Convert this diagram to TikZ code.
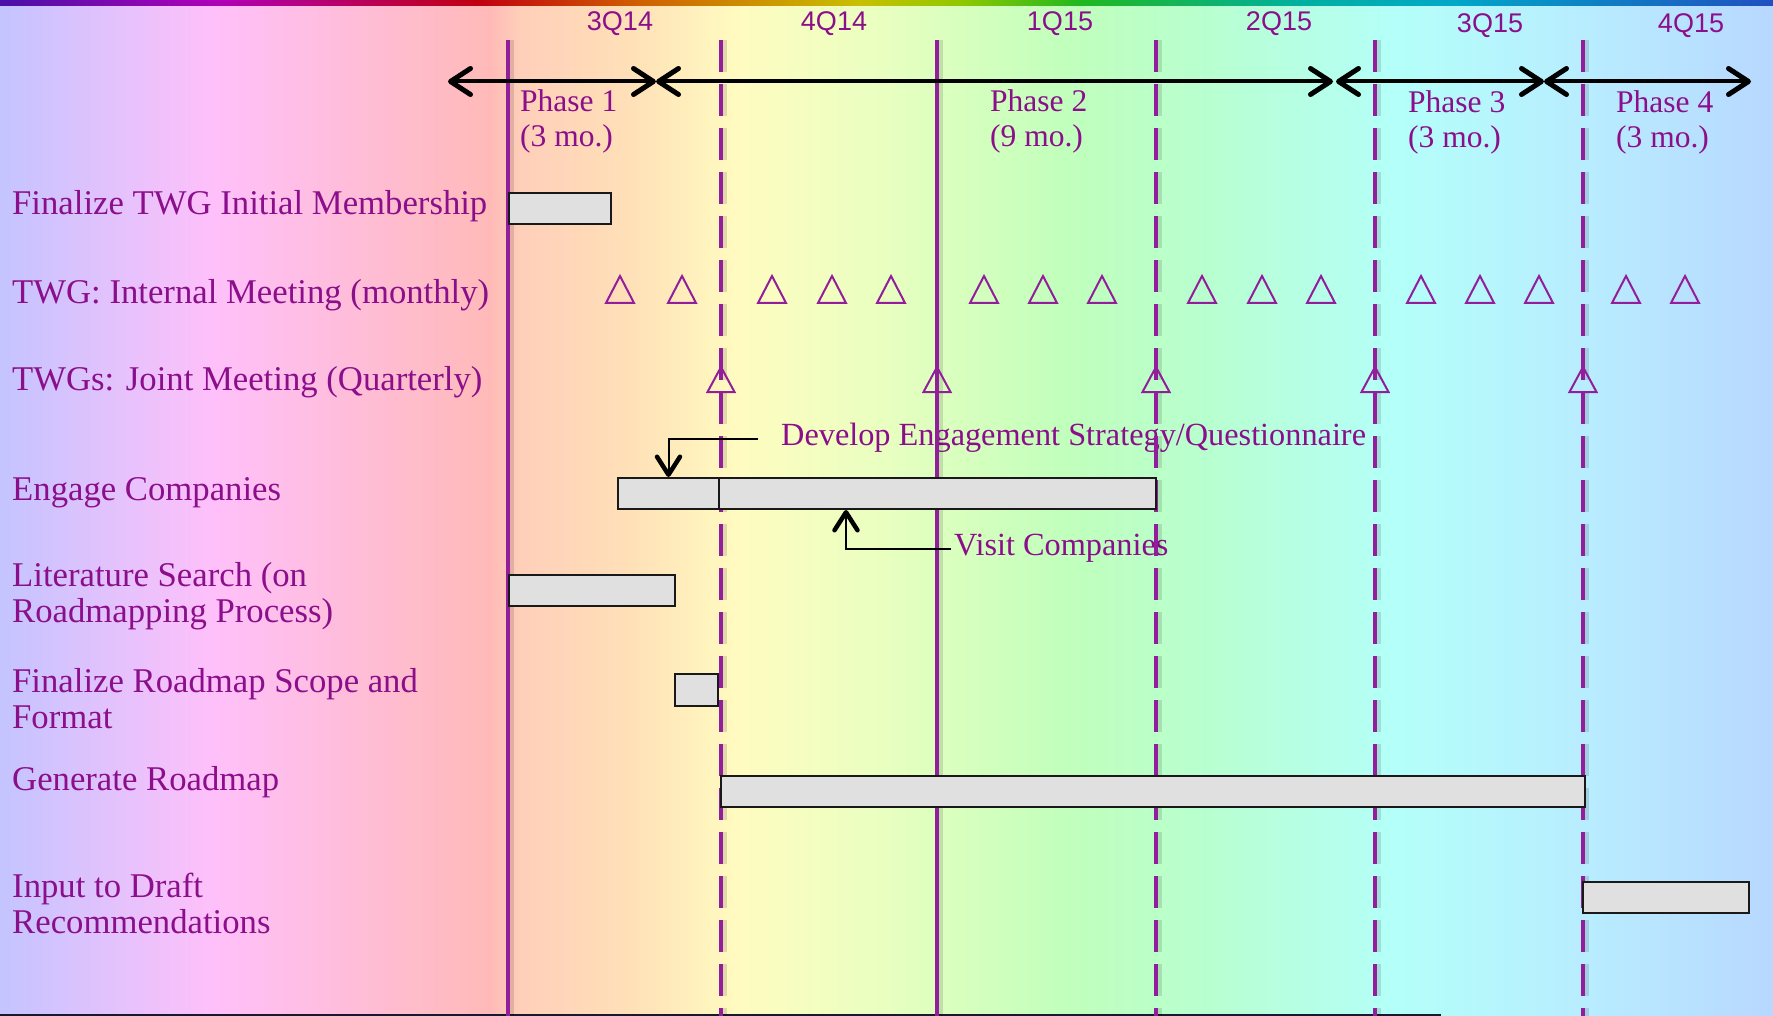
\documentclass[tikz,border=0pt]{standalone}
\usepackage{fontspec}
\setmainfont{Liberation Serif}
\newfontfamily\qfont{Liberation Sans}
\usetikzlibrary{arrows.meta}
\definecolor{txt}{RGB}{139,14,139}
\definecolor{ln}{RGB}{146,30,156}
\definecolor{barfill}{RGB}{224,224,224}
\definecolor{bottomdark}{RGB}{24,24,48}
\definecolor{bg0}{HTML}{C4C4FF}
\definecolor{bg1}{HTML}{FFC0FA}
\definecolor{bg2}{HTML}{FFBAB8}
\definecolor{bg3}{HTML}{FFCFB9}
\definecolor{bg4}{HTML}{FFE0B8}
\definecolor{bg5}{HTML}{FFFCC0}
\definecolor{bg6}{HTML}{E8FFC0}
\definecolor{bg7}{HTML}{C0FFBC}
\definecolor{bg8}{HTML}{B8FFD0}
\definecolor{bg9}{HTML}{B4FFFA}
\definecolor{bg10}{HTML}{B8ECFF}
\definecolor{bg11}{HTML}{B8D8FF}
\definecolor{rb0}{HTML}{4A10A8}
\definecolor{rb1}{HTML}{B000B8}
\definecolor{rb2}{HTML}{C00010}
\definecolor{rb3}{HTML}{D06000}
\definecolor{rb4}{HTML}{C8C000}
\definecolor{rb5}{HTML}{90C800}
\definecolor{rb6}{HTML}{20B820}
\definecolor{rb7}{HTML}{00B0A0}
\definecolor{rb8}{HTML}{00A8C8}
\definecolor{rb9}{HTML}{2050C0}
\pgfdeclarehorizontalshading{bgshade}{1016pt}{color(0pt)=(bg0); color(215pt)=(bg1); color(490pt)=(bg2); color(520pt)=(bg3); color(630pt)=(bg4); color(740pt)=(bg5); color(885pt)=(bg6); color(1070pt)=(bg7); color(1210pt)=(bg8); color(1400pt)=(bg9); color(1590pt)=(bg10); color(1773pt)=(bg11)}
\pgfdeclarehorizontalshading{rainbow}{6pt}{color(0pt)=(rb0); color(218pt)=(rb1); color(476pt)=(rb2); color(640pt)=(rb3); color(860pt)=(rb4); color(960pt)=(rb5); color(1080pt)=(rb6); color(1300pt)=(rb7); color(1450pt)=(rb8); color(1773pt)=(rb9)}
\newcommand\twoline[2]{\begin{tabular}[t]{@{}l@{}}#1\\#2\end{tabular}}
\tikzset{
  lbl/.style={text=txt, font=\fontsize{34.7}{37}\selectfont, inner sep=0pt, anchor=base west},
  lbltwo/.style={lbl, font=\fontsize{34.7}{36.5}\selectfont},
  annlbl/.style={lbl, font=\fontsize{32.3}{34}\selectfont},
  phl/.style={text=txt, font=\fontsize{31.5}{35}\selectfont, inner sep=0pt, anchor=base west},
  qlbl/.style={text=txt, font=\qfont\fontsize{27}{30}\selectfont, inner sep=0pt, anchor=base},
  bar/.style={draw=black!90, line width=2pt, fill=barfill, inner sep=0pt, minimum height=31pt},
  vline/.style={draw=ln, line width=4pt},
  dline/.style={vline, dash pattern=on 32pt off 12pt},
  vshadow/.style={draw=black, opacity=0.12, line width=5pt},
  dshadow/.style={vshadow, dash pattern=on 32pt off 12pt},
  tri/.style={draw=ln, line width=2pt, line join=miter},
  phasearr/.style={draw=black, line width=4pt, {Straight Barb[length=20pt,width=26pt,line width=5pt,round]}-{Straight Barb[length=20pt,width=26pt,line width=5pt,round]}},
  annot/.style={draw=black, line width=2pt, -{Straight Barb[length=18pt,width=23pt,line width=4.5pt,round]}}
}
\begin{document}
\begin{tikzpicture}[x=1pt,y=-1pt]
\useasboundingbox (0,0) rectangle (1773,1016);
% background
\node[inner sep=0pt, outer sep=0pt, anchor=north west] (bg) at (0,0) {\pgfuseshading{bgshade}};
\node[inner sep=0pt, outer sep=0pt, anchor=north west] (rb) at (0,0) {\pgfuseshading{rainbow}};
\fill[bottomdark] (0,1014) rectangle (1441,1016);

% quarter labels
\node[qlbl] (q1) at (620,31) {3Q14};
\node[qlbl] (q2) at (834,31) {4Q14};
\node[qlbl] (q3) at (1060,31) {1Q15};
\node[qlbl] (q4) at (1279,31) {2Q15};
\node[qlbl] (q5) at (1490,33) {3Q15};
\node[qlbl] (q6) at (1691,33) {4Q15};

% phase labels
\node[phl] (ph1) at (520,112) {\twoline{Phase 1}{(3 mo.)}};
\node[phl] (ph2) at (990,112) {\twoline{Phase 2}{(9 mo.)}};
\node[phl] (ph3) at (1408,113) {\twoline{Phase 3}{(3 mo.)}};
\node[phl] (ph4) at (1616,113) {\twoline{Phase 4}{(3 mo.)}};

% row labels
\node[lbl] (r1) at (12,215) {Finalize TWG Initial Membership};
\node[lbl] (r2) at (12,304) {TWG: Internal Meeting (monthly)};
\node[lbl] (r3) at (12,390) {TWGs: Joint Meeting (Quarterly)};
\node[lbl] (r4) at (12,500) {Engage Companies};
\node[lbltwo] (r5) at (12,586) {\twoline{Literature Search (on}{Roadmapping Process)}};
\node[lbltwo] (r6) at (12,692) {\twoline{Finalize Roadmap Scope and}{Format}};
\node[lbl] (r7) at (12,790) {Generate Roadmap};
\node[lbltwo] (r8) at (12,897) {\twoline{Input to Draft}{Recommendations}};
\node[annlbl] (dev) at (781,445) {Develop Engagement Strategy/Questionnaire};
\node[annlbl] (vis) at (954,555) {Visit Companies};

% quarter lines
\foreach \x in {508,937} {
  \draw[vshadow] (\x+3,40) -- (\x+3,1016);
  \draw[vline] (\x,40) -- (\x,1016);
}
\foreach \x in {721,1156,1375,1583} {
  \draw[dshadow] (\x+3,40) -- (\x+3,1016);
  \draw[dline] (\x,40) -- (\x,1016);
}

% monthly meetings
\foreach \x in {620,682,772,832,891,984,1043,1102,1202,1262,1321,1421,1480,1539,1626,1685}
  \draw[tri] (\x-14,303) -- (\x,276) -- (\x+14,303) -- cycle;
% quarterly meetings
\foreach \x in {721,937,1156,1375,1583}
  \draw[tri] (\x-13.5,392) -- (\x,367) -- (\x+13.5,392) -- cycle;

% bars
\node[bar, minimum width=102pt] (b1) at (560,208.5) {};
\node[bar, minimum width=101pt] (ea) at (668.5,493.5) {};
\node[bar, minimum width=437pt] (eb) at (937.5,493.5) {};
\node[bar, minimum width=166pt] (lit) at (592,590.5) {};
\node[bar, minimum width=43pt, minimum height=32pt] (scope) at (696.5,690) {};
\node[bar, minimum width=864pt] (gen) at (1153,791.5) {};
\node[bar, minimum width=166pt] (inp) at (1666,897.5) {};

% phase arrows
\coordinate (a1) at (448,81.5);
\coordinate (a2) at (656,81.5);
\coordinate (a3) at (656,81.5);
\coordinate (a4) at (1333,81.5);
\coordinate (a5) at (1336,81.5);
\coordinate (a6) at (1544,81.5);
\coordinate (a7) at (1544,81.5);
\coordinate (a8) at (1751,81.5);
\draw[phasearr] (a1) -- (a2);
\draw[phasearr] (a3) -- (a4);
\draw[phasearr] (a5) -- (a6);
\draw[phasearr] (a7) -- (a8);

% annotation connectors
\coordinate (devs) at (758,439);
\draw[annot] (devs) -| (ea.north);
\coordinate (viss) at (951,549);
\draw[annot] (viss) -| ([xshift=-91.5pt]eb.south);
\end{tikzpicture}
\end{document}
